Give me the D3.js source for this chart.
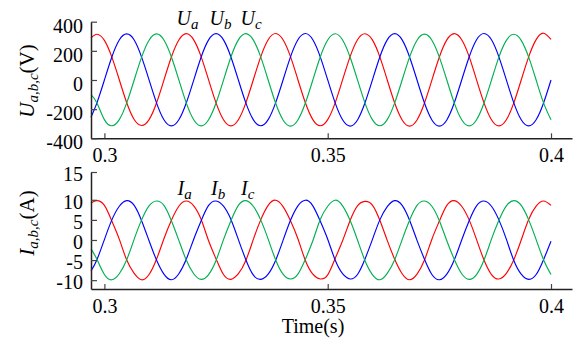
<!DOCTYPE html>
<html>
<head>
<meta charset="utf-8">
<script src="https://cdn.jsdelivr.net/npm/d3@7"></script>
<style>
  html, body { margin: 0; padding: 0; background: #fff; }
  svg { display: block; }
  text { font-family: "Liberation Serif", "Times New Roman", serif; fill: #000; }
</style>
</head>
<body>
<svg id="chart" width="576" height="340"></svg>
<script>
// Sampling instants (s)
const times = [0.29700,
  0.29833, 0.30000, 0.30167, 0.30333, 0.30500, 0.30667, 0.30833, 0.31000, 0.31167, 0.31333, 0.31500, 0.31667,
  0.31833, 0.32000, 0.32167, 0.32333, 0.32500, 0.32667, 0.32833, 0.33000, 0.33167, 0.33333, 0.33500, 0.33667,
  0.33833, 0.34000, 0.34167, 0.34333, 0.34500, 0.34667, 0.34833, 0.35000, 0.35167, 0.35333, 0.35500, 0.35667,
  0.35833, 0.36000, 0.36167, 0.36333, 0.36500, 0.36667, 0.36833, 0.37000, 0.37167, 0.37333, 0.37500, 0.37667,
  0.37833, 0.38000, 0.38167, 0.38333, 0.38500, 0.38667, 0.38833, 0.39000, 0.39167, 0.39333, 0.39500, 0.39667,
  0.39833, 0.40000];

// Phase voltages (V)
const voltA = [288,
  314, 272, 157, 2, -156, -271, -312, -272, -158, -1, 158, 274,
  318, 275, 159, 1, -157, -273, -315, -273, -157, 0, 159, 276,
  319, 276, 160, 2, -156, -272, -314, -272, -157, 1, 159, 276,
  317, 275, 159, 1, -158, -274, -316, -274, -158, -1, 158, 275,
  318, 276, 160, 1, -157, -273, -315, -273, -157, 0, 159, 277,
  321, 278];
const voltB = [-255,
  -157, 0, 158, 274, 316, 274, 157, 1, -157, -273, -315, -273,
  -158, -1, 158, 275, 318, 275, 158, 0, -157, -272, -314, -272,
  -157, 0, 159, 276, 319, 276, 159, 1, -157, -273, -316, -274,
  -158, -1, 158, 275, 318, 275, 158, 0, -158, -274, -316, -274,
  -158, 0, 158, 276, 319, 276, 159, 1, -157, -273, -315, -273,
  -158, 0];
const voltC = [-100,
  -157, -272, -314, -272, -157, 0, 157, 273, 316, 274, 158, 1,
  -157, -273, -315, -273, -158, -1, 158, 275, 318, 275, 159, 0,
  -158, -274, -316, -274, -158, 0, 158, 274, 317, 274, 158, 1,
  -157, -272, -314, -272, -157, 0, 157, 273, 315, 273, 157, 0,
  -157, -273, -315, -273, -158, -1, 157, 272, 314, 272, 157, 0,
  -157, -273];

// Phase currents (A)
const currA = [9.2,
  9.8, 8.6, 4.7, 0.2, -5.0, -8.3, -9.9, -8.6, -4.8, 0.3, 4.9, 8.4,
  9.7, 8.5, 5.1, -0.2, -4.7, -8.6, -9.8, -8.4, -5.1, 0.1, 5.0, 8.6,
  9.9, 8.3, 4.8, 0.3, -5.1, -8.5, -9.7, -8.7, -4.6, -0.2, 4.8, 8.5,
  9.6, 8.7, 4.9, -0.1, -4.8, -8.4, -9.9, -8.5, -5.0, 0.2, 4.7, 8.6,
  9.8, 8.4, 5.0, 0.1, -5.0, -8.6, -9.7, -8.3, -4.9, 0.0, 5.1, 8.4,
  9.7, 8.6];
const currB = [-7.7,
  -4.9, 0.1, 5.0, 8.4, 9.8, 8.6, 4.8, -0.2, -5.0, -8.5, -9.9, -8.4,
  -4.8, 0.2, 4.8, 8.6, 9.7, 8.4, 5.1, 0.1, -4.9, -8.7, -9.8, -8.5,
  -5.1, -0.1, 4.9, 8.5, 9.9, 8.5, 4.7, 0.2, -5.0, -8.4, -9.7, -8.6,
  -4.8, 0.1, 5.0, 8.3, 9.8, 8.6, 4.9, -0.1, -4.8, -8.6, -9.9, -8.5,
  -5.0, 0.0, 4.8, 8.5, 9.7, 8.4, 5.0, 0.2, -5.1, -8.5, -9.8, -8.6,
  -4.9, -0.3];
const currC = [-2.2,
  -4.8, -8.6, -9.9, -8.4, -4.9, 0.2, 5.0, 8.5, 9.7, 8.6, 4.8, -0.1,
  -5.0, -8.4, -9.8, -8.6, -5.1, 0.1, 4.8, 8.6, 9.8, 8.4, 5.0, 0.2,
  -4.9, -8.5, -9.7, -8.5, -4.8, -0.2, 5.1, 8.4, 9.9, 8.5, 4.9, 0.0,
  -5.1, -8.6, -9.9, -8.3, -4.9, 0.1, 4.9, 8.6, 9.7, 8.4, 4.8, -0.2,
  -4.8, -8.4, -9.8, -8.6, -5.0, 0.2, 4.9, 8.5, 9.8, 8.6, 5.0, 0.1,
  -4.9, -8.6];

// Axis ticks
const timeTicks = [0.3, 0.35, 0.4];
const voltTicks = [-400, -200, 0, 200, 400];
const currTicks = [-10, -5, 0, 5, 10, 15];

const phaseColors = ["#ff0000", "#0000ff", "#00b050"];
const phaseNames = ["a", "b", "c"];

const svg = d3.select("#chart");

const x = d3.scaleLinear().domain([0.297, 0.4047]).range([91, 572]);
const yV = d3.scaleLinear().domain([-400, 400]).range([138.3, 21.7]);
const yI = d3.scaleLinear().domain([-12.2, 10, 15]).range([289, 199.8, 172]);

function drawPanel(y, ticks, series, labelDy, symbol, unit, titleY, tagX, tagY) {
  const g = svg.append("g");
  const y0 = y.range()[0];

  // one curve per phase
  series.forEach((vals, i) => {
    const line = d3.line()
      .x((d, j) => x(times[j]))
      .y(d => y(d))
      .curve(d3.curveNatural);
    g.append("path")
      .datum(vals)
      .attr("d", line)
      .attr("fill", "none")
      .attr("stroke", phaseColors[i])
      .attr("stroke-width", 1.15);
  });

  // time axis, ticks pointing inward
  const gx = g.append("g")
    .attr("transform", `translate(0,${y0})`)
    .call(d3.axisBottom(x).tickValues(timeTicks).tickFormat(d => String(d))
      .tickSize(-5).tickSizeOuter(0).tickPadding(10));
  // value axis
  const gy = g.append("g")
    .attr("transform", `translate(${x.range()[0]},0)`)
    .call(d3.axisLeft(y).tickValues(ticks).tickFormat(d => String(d))
      .tickSize(-6).tickSizeOuter(0).tickPadding(8));

  [gx, gy].forEach(a => {
    a.select(".domain").attr("stroke", "#222").attr("stroke-width", 1.5);
    a.selectAll(".tick line").attr("stroke", "#444").attr("stroke-width", 1.2);
    a.selectAll(".tick text")
      .attr("font-family", "Liberation Serif, Times New Roman, serif")
      .attr("font-size", 20).attr("fill", "#000");
  });
  gy.selectAll(".tick text").attr("dy", labelDy);

  // rotated axis title
  const t = g.append("text")
    .attr("transform", `translate(33.5,${titleY}) rotate(-90)`)
    .attr("text-anchor", "middle")
    .attr("font-size", 21);
  t.append("tspan").attr("font-style", "italic").text(symbol);
  t.append("tspan").attr("font-style", "italic").attr("font-size", 15).attr("dy", 4).text("a,b,c");
  t.append("tspan").attr("dy", -4).text(unit);

  // phase tags above the first peaks
  phaseNames.forEach((n, i) => {
    const tag = g.append("text")
      .attr("x", tagX[i]).attr("y", tagY)
      .attr("font-size", 20);
    tag.append("tspan").attr("font-style", "italic").text(symbol);
    tag.append("tspan").attr("font-style", "italic").attr("font-size", 15).attr("dy", 4).text(n);
  });
}

drawPanel(yV, voltTicks, [voltA, voltB, voltC], "0.52em", "U", "(V)", 81, [176.5, 209.5, 240.5], 25);
drawPanel(yI, currTicks, [currA, currB, currC], "0.42em", "I", "(A)", 223, [177.5, 211, 241], 195);

// shared time label
svg.append("text")
  .attr("x", 313).attr("y", 333)
  .attr("text-anchor", "middle")
  .attr("font-size", 20)
  .text("Time(s)");
</script>
</body>
</html>
